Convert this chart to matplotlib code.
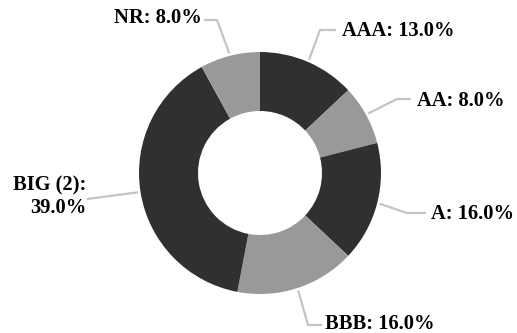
import numpy as np
import matplotlib
matplotlib.use('Agg')
import matplotlib.pyplot as plt

plt.rcParams['font.family'] = ['Liberation Serif', 'DejaVu Serif']

# data
labels = ['AAA', 'AA', 'A', 'BBB', 'BIG (2)', 'NR']
values = [13.0, 8.0, 16.0, 16.0, 39.0, 8.0]
colors = ['#303030', '#999999', '#303030', '#999999', '#303030', '#999999']

W, H = 517, 333
fig = plt.figure(figsize=(W / 100, H / 100), dpi=100)
ax = fig.add_axes([0, 0, 1, 1])

cx, cy = 260, H - 173
R, r_in = 121, 62
wedges, _ = ax.pie(values, colors=colors, startangle=90, counterclock=False,
                   center=(cx, cy), radius=R,
                   wedgeprops=dict(width=R - r_in, linewidth=0))
ax.set_xlim(0, W)
ax.set_ylim(0, H)
ax.set_aspect('equal')
ax.axis('off')

# label layout in pixel coords (y down): elbow point, line end, text pos, ha
layout = {
    'AAA': ((320, 30), (336, 30), (342, 31), 'left'),
    'AA': ((397, 99), (411, 99), (417, 101), 'left'),
    'A': ((407, 213), (426, 213), (431, 214), 'left'),
    'BBB': ((308, 325), (322, 325), (325, 324), 'left'),
    'BIG (2)': (None, (87, 199), (86, 197), 'right'),
    'NR': ((217, 20), (204, 20), (202, 18), 'right'),
}

line_col = '#c4c4c4'
for w, lab, v in zip(wedges, labels, values):
    ang = np.deg2rad((w.theta1 + w.theta2) / 2)
    ax_, ay_ = cx + 1.02 * R * np.cos(ang), cy + 1.02 * R * np.sin(ang)
    elbow, end, tpos, ha = layout[lab]
    xs, ys = [ax_], [ay_]
    if elbow is not None:
        xs.append(elbow[0]); ys.append(H - elbow[1])
    xs.append(end[0]); ys.append(H - end[1])
    ax.plot(xs, ys, color=line_col, lw=1.6, solid_capstyle='butt')
    txt = f'{lab}: {v:.1f}%'
    if lab == 'BIG (2)':
        txt = f'{lab}:\n{v:.1f}%'
    ax.text(tpos[0], H - tpos[1], txt, ha=ha, va='center', fontsize=14.8,
            fontweight='bold', color='#000000', multialignment='right',
            linespacing=1.15)

fig.savefig('out.png', dpi=100)
